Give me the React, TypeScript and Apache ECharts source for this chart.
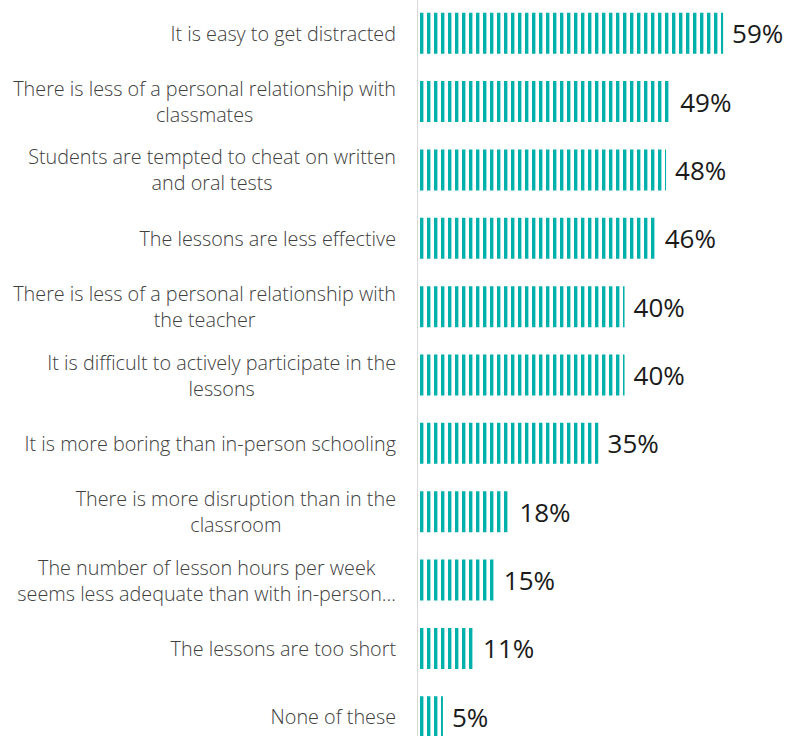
import React, { useEffect, useRef } from "react";
import * as echarts from "echarts";

const categories: string[] = [
  "It is easy to get distracted",
  "There is less of a personal relationship with\nclassmates",
  "Students are tempted to cheat on written\nand oral tests",
  "The lessons are less effective",
  "There is less of a personal relationship with\nthe teacher",
  "It is difficult to actively participate in the\nlessons",
  "It is more boring than in-person schooling",
  "There is more disruption than in the\nclassroom",
  "The number of lesson hours per week\nseems less adequate than with in-person…",
  "The lessons are too short",
  "None of these",
];

const values: number[] = [59, 49, 48, 46, 40, 40, 35, 18, 15, 11, 5];

const TEAL = "#00b0aa";

function makeStripe(): HTMLCanvasElement {
  const c = document.createElement("canvas");
  c.width = 7;
  c.height = 4;
  const ctx = c.getContext("2d")!;
  ctx.clearRect(0, 0, 7, 4);
  ctx.fillStyle = TEAL;
  ctx.fillRect(0, 0, 3, 4);
  ctx.globalAlpha = 0.4;
  ctx.fillRect(3, 0, 1, 4);
  return c;
}

export default function App() {
  const ref = useRef<HTMLDivElement>(null);
  useEffect(() => {
    if (!ref.current) return;
    const chart = echarts.init(ref.current, undefined, { renderer: "svg" });
    const stripe = makeStripe();
    const labelFont = {
      color: "#404040",
      fontFamily: "Open Sans",
      fontWeight: 300,
      fontSize: 19.8,
      lineHeight: 26,
    };
    chart.setOption({
      animation: false,
      backgroundColor: "#ffffff",
      grid: { left: 417, right: 21, top: 0, bottom: 0, containLabel: false },
      xAxis: {
        type: "value",
        min: 0,
        max: 69,
        show: false,
      },
      yAxis: {
        type: "category",
        inverse: true,
        data: categories,
        axisLine: { show: true, lineStyle: { color: "#d9d9d9", width: 1 } },
        axisTick: { show: false },
        splitLine: { show: false },
        axisLabel: {
          margin: 21,
          ...labelFont,
          formatter: (v: string) =>
            v
              .split("\n")
              .map((l) => `{c|${l}}`)
              .join("\n"),
          rich: {
            c: { align: "center", ...labelFont },
          },
        },
      },
      series: [
        {
          type: "bar",
          data: values,
          barWidth: 41,
          itemStyle: {
            color: {
              image: stripe,
              repeat: "repeat",
              imageWidth: 7,
              imageHeight: 4,
              x: 422,
              y: 0,
            } as any,
          },
          label: {
            show: true,
            position: "right",
            distance: 9,
            formatter: "{c}%",
            color: "#1a1a1a",
            fontFamily: "Open Sans",
            fontSize: 26,
          },
        },
      ],
    });
    return () => chart.dispose();
  }, []);
  return (
    <div
      style={{
        position: "fixed",
        left: 0,
        top: 0,
        width: 796,
        height: 736,
        overflow: "hidden",
        background: "#fff",
      }}
    >
      <div
        ref={ref}
        style={{ position: "absolute", left: 0, top: -1, width: 796, height: 752 }}
      />
    </div>
  );
}
